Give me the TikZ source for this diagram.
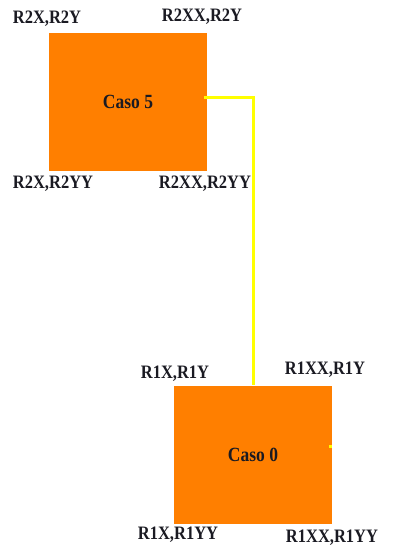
\documentclass[tikz,border=0pt]{standalone}
\usepackage{fontspec}
\setmainfont{Liberation Serif}
\usetikzlibrary{calc}
\definecolor{boxorange}{HTML}{FF7F00}
\definecolor{wireyellow}{HTML}{FFFF00}
\definecolor{txt}{HTML}{1A1A22}
\tikzset{
  box/.style={rectangle, fill=boxorange, draw=none, minimum width=158pt, minimum height=138pt, inner sep=0pt, font=\fontsize{17.5}{19}\selectfont\bfseries, text=txt, yscale=1},
  corner/.style={inner sep=0pt, font=\fontsize{16.5}{18}\selectfont\bfseries, text=txt},
  wire/.style={draw=wireyellow, line width=3pt}
}
\newcommand{\tallt}[1]{\scalebox{1}[1.15]{#1}}
\begin{document}
\begin{tikzpicture}[x=1pt,y=-1pt]
\useasboundingbox (0,0) rectangle (394,549);
\node[box] (c5) at (128,102) {\tallt{Caso 5}};
\node[box] (c0) at (253,454.5) {\tallt{Caso 0}};
\node[corner] (a1) at (47,19) {\tallt{R2X,R2Y}};
\node[corner] (a2) at (202,17) {\tallt{R2XX,R2Y}};
\node[corner] (a3) at (53,184) {\tallt{R2X,R2YY}};
\node[corner] (a4) at (205,184) {\tallt{R2XX,R2YY}};
\node[corner] (b1) at (175,374) {\tallt{R1X,R1Y}};
\node[corner] (b2) at (325,370) {\tallt{R1XX,R1Y}};
\node[corner] (b3) at (178,535) {\tallt{R1X,R1YY}};
\node[corner] (b4) at (332,538) {\tallt{R1XX,R1YY}};
\draw[wire] ($(c5.east)+(-3,-5)$) -| (c0.north);
\draw[wire] ($(c0.east)+(-3,-8.5)$) -- ++(3,0);
\end{tikzpicture}
\end{document}
